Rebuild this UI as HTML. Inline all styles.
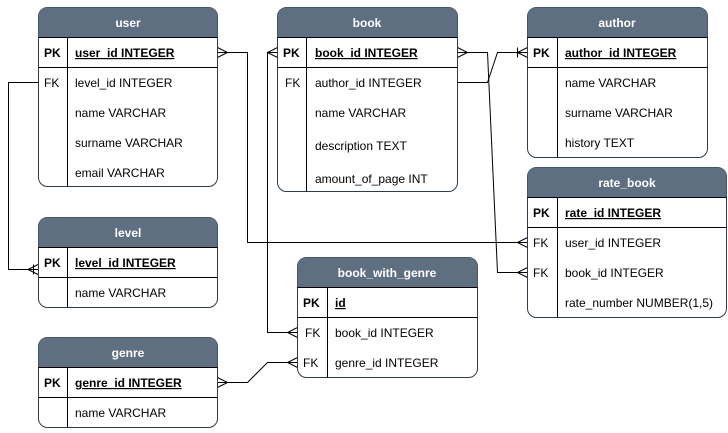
<!DOCTYPE html>
<html><head><style>
html,body{margin:0;padding:0;background:#fff;}
svg text{font-family:"Liberation Sans",Arial,sans-serif;font-size:12px;fill:#000;}
.h{fill:#fff;font-weight:bold;text-anchor:middle;}
.b{font-weight:bold;}
.u{font-weight:bold;text-decoration:underline;}
.box{fill:#fff;stroke:#2e3c4c;stroke-width:1;}
.hd{fill:#5f6f82;}
.ln{stroke:#000;stroke-width:1;fill:none;}
</style></head><body>
<svg width="728" height="428" viewBox="0 0 728 428" xmlns="http://www.w3.org/2000/svg">
<g class="ln">
<path d="M217.5 52.5H247.5V242.5H527.5"/>
<path d="M38 82.5H8.5V269.5H38"/>
<path d="M457.5 52.5H487.5L497.5 272.5H527.5"/>
<path d="M457.5 82.5H487.5L497.5 52.5H527.5"/>
<path d="M277.5 52.5H267.5V332.5H297.5"/>
<path d="M217.5 382.5H247.5L267.5 362.5H297.5"/>
<path d="M217.5 47.5L227.5 52.5L217.5 57.5"/>
<path d="M527.5 237.5L517.5 242.5L527.5 247.5"/>
<path d="M38 264.5L28 269.5L38 274.5M33.5 264.5V274.5"/>
<path d="M457.5 47.5L467.5 52.5L457.5 57.5"/>
<path d="M527.5 267.5L517.5 272.5L527.5 277.5"/>
<path d="M527.5 47.5L517.5 52.5L527.5 57.5M517.5 47.5V57.5"/>
<path d="M277.5 47.5L267.5 52.5L277.5 57.5"/>
<path d="M297.5 327.5L287.5 332.5L297.5 337.5"/>
<path d="M217.5 377.5L227.5 382.5L217.5 387.5"/>
<path d="M297.5 357.5L287.5 362.5L297.5 367.5"/>
</g>

<g>
<rect class="box" x="38.5" y="7.5" width="179" height="179" rx="9"/>
<path class="hd" d="M38.5 37.5V16.5A9 9 0 0 1 47.5 7.5H208.5A9 9 0 0 1 217.5 16.5V37.5Z"/>
<path class="ln" d="M38.5 37.5H217.5M38.5 67.5H217.5M67.5 37.5V186.5"/>
<text class="h" x="128" y="27">user</text>
<text class="b" x="44" y="57">PK</text><text class="u" x="75" y="57">user_id INTEGER</text>
<text x="44" y="87">FK</text><text x="75" y="87">level_id INTEGER</text>
<text x="75" y="117">name VARCHAR</text>
<text x="75" y="147">surname VARCHAR</text>
<text x="75" y="177">email VARCHAR</text>
</g>

<g>
<rect class="box" x="277.5" y="7.5" width="180" height="184" rx="9"/>
<path class="hd" d="M277.5 37.5V16.5A9 9 0 0 1 286.5 7.5H448.5A9 9 0 0 1 457.5 16.5V37.5Z"/>
<path class="ln" d="M277.5 37.5H457.5M277.5 67.5H457.5M306.5 37.5V191.5"/>
<text class="h" x="367" y="27">book</text>
<text class="b" x="283" y="57">PK</text><text class="u" x="315" y="57">book_id INTEGER</text>
<text x="285" y="87">FK</text><text x="315" y="87">author_id INTEGER</text>
<text x="315" y="117">name VARCHAR</text>
<text x="315" y="150">description TEXT</text>
<text x="315" y="183">amount_of_page INT</text>
</g>

<g>
<rect class="box" x="527.5" y="7.5" width="180" height="150" rx="9"/>
<path class="hd" d="M527.5 37.5V16.5A9 9 0 0 1 536.5 7.5H698.5A9 9 0 0 1 707.5 16.5V37.5Z"/>
<path class="ln" d="M527.5 37.5H707.5M527.5 67.5H707.5M557.5 37.5V157.5"/>
<text class="h" x="617" y="27">author</text>
<text class="b" x="533" y="57">PK</text><text class="u" x="565" y="57">author_id INTEGER</text>
<text x="565" y="87">name VARCHAR</text>
<text x="565" y="117">surname VARCHAR</text>
<text x="565" y="147">history TEXT</text>
</g>

<g>
<rect class="box" x="527.5" y="167.5" width="199" height="150" rx="9"/>
<path class="hd" d="M527.5 197.5V176.5A9 9 0 0 1 536.5 167.5H717.5A9 9 0 0 1 726.5 176.5V197.5Z"/>
<path class="ln" d="M527.5 197.5H726.5M527.5 227.5H726.5M557.5 197.5V317.5"/>
<text class="h" x="627" y="187">rate_book</text>
<text class="b" x="533" y="217">PK</text><text class="u" x="565" y="217">rate_id INTEGER</text>
<text x="533" y="247">FK</text><text x="565" y="247">user_id INTEGER</text>
<text x="533" y="277">FK</text><text x="565" y="277">book_id INTEGER</text>
<text x="565" y="307">rate_number NUMBER(1,5)</text>
</g>

<g>
<rect class="box" x="38.5" y="217.5" width="179" height="90" rx="9"/>
<path class="hd" d="M38.5 247.5V226.5A9 9 0 0 1 47.5 217.5H208.5A9 9 0 0 1 217.5 226.5V247.5Z"/>
<path class="ln" d="M38.5 247.5H217.5M38.5 277.5H217.5M67.5 247.5V307.5"/>
<text class="h" x="128" y="237">level</text>
<text class="b" x="44" y="267">PK</text><text class="u" x="75" y="267">level_id INTEGER</text>
<text x="75" y="297">name VARCHAR</text>
</g>

<g>
<rect class="box" x="297.5" y="257.5" width="180" height="120" rx="9"/>
<path class="hd" d="M297.5 287.5V266.5A9 9 0 0 1 306.5 257.5H468.5A9 9 0 0 1 477.5 266.5V287.5Z"/>
<path class="ln" d="M297.5 287.5H477.5M297.5 317.5H477.5M327.5 287.5V377.5"/>
<text class="h" x="387" y="277">book_with_genre</text>
<text class="b" x="303" y="307">PK</text><text class="u" x="335" y="307">id</text>
<text x="305" y="337">FK</text><text x="335" y="337">book_id INTEGER</text>
<text x="303" y="367">FK</text><text x="335" y="367">genre_id INTEGER</text>
</g>

<g>
<rect class="box" x="38.5" y="337.5" width="179" height="90" rx="9"/>
<path class="hd" d="M38.5 367.5V346.5A9 9 0 0 1 47.5 337.5H208.5A9 9 0 0 1 217.5 346.5V367.5Z"/>
<path class="ln" d="M38.5 367.5H217.5M38.5 397.5H217.5M67.5 367.5V427.5"/>
<text class="h" x="128" y="357">genre</text>
<text class="b" x="44" y="387">PK</text><text class="u" x="75" y="387">genre_id INTEGER</text>
<text x="75" y="417">name VARCHAR</text>
</g>
</svg>
</body></html>
